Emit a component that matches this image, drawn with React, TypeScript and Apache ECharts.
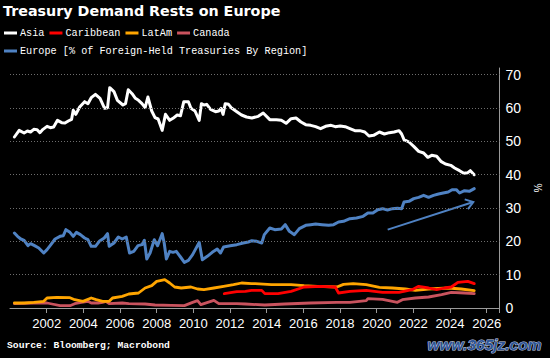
import React, { useEffect, useRef } from 'react';
import * as echarts from 'echarts';

const titleText = 'Treasury Demand Rests on Europe';
const sourceText = 'Source: Bloomberg; Macrobond';
const watermarkText = 'www.365jz.com';
const europeLegendText = 'Europe [% of Foreign-Held Treasuries By Region]';
const legendRow1 = ['Asia', 'Caribbean', 'LatAm', 'Canada'];
const gridTicks = [10, 20, 30, 40, 50, 60, 70];
const arrowTail = [2020.6, 23.5];
const arrowTip = [2025.27, 31.8];

const asia = [
  [2000.24, 51.3], [2000.5, 53.3], [2000.77, 52.5], [2000.95, 53.1], [2001.12, 52.8], [2001.3, 53.6],
  [2001.48, 53.5], [2001.63, 52.6], [2001.8, 53.6], [2002.02, 54.5], [2002.2, 54.1], [2002.38, 54.3],
  [2002.59, 56.3], [2002.82, 55.6], [2003.0, 55.5], [2003.18, 56.1], [2003.36, 56.6], [2003.45, 59.3],
  [2003.59, 58.1], [2003.8, 60.3], [2004.07, 61.9], [2004.25, 61.3], [2004.43, 63.1], [2004.66, 64.1],
  [2004.91, 62.9], [2005.16, 59.9], [2005.32, 60.1], [2005.44, 66.1], [2005.67, 64.9], [2005.86, 62.3],
  [2006.16, 60.9], [2006.3, 61.3], [2006.45, 65.5], [2006.66, 64.3], [2006.84, 62.9], [2007.01, 62.3],
  [2007.2, 61.3], [2007.37, 60.1], [2007.52, 63.3], [2007.73, 59.1], [2007.91, 57.1], [2008.08, 56.7],
  [2008.3, 53.3], [2008.48, 58.1], [2008.71, 56.3], [2008.89, 56.9], [2009.12, 57.9], [2009.3, 57.7],
  [2009.48, 61.9], [2009.73, 61.9], [2009.87, 59.9], [2010.09, 59.1], [2010.32, 56.3], [2010.44, 61.3],
  [2010.58, 60.9], [2010.73, 61.1], [2010.94, 59.6], [2011.21, 58.9], [2011.39, 59.1], [2011.51, 59.9],
  [2011.62, 58.1], [2011.74, 61.3], [2011.92, 61.1], [2012.1, 59.9], [2012.37, 58.9], [2012.63, 57.9],
  [2012.9, 57.3], [2013.19, 57.0], [2013.54, 57.5], [2013.81, 58.5], [2014.17, 56.5], [2014.53, 56.5],
  [2014.8, 56.3], [2015.06, 55.4], [2015.33, 56.8], [2015.6, 57.0], [2015.87, 55.8], [2016.13, 55.0],
  [2016.4, 54.8], [2016.67, 54.4], [2016.94, 53.8], [2017.21, 54.5], [2017.51, 54.8], [2017.74, 54.4],
  [2018.01, 54.6], [2018.28, 54.4], [2018.54, 53.8], [2018.81, 53.2], [2019.08, 53.2], [2019.35, 52.8],
  [2019.58, 51.6], [2019.83, 51.8], [2020.15, 52.8], [2020.42, 52.2], [2020.69, 52.6], [2020.95, 52.8],
  [2021.22, 53.2], [2021.36, 52.2], [2021.49, 50.5], [2021.76, 49.8], [2022.02, 48.5], [2022.29, 47.0],
  [2022.56, 46.5], [2022.79, 45.2], [2023.0, 45.8], [2023.27, 45.5], [2023.5, 44.0], [2023.75, 43.2],
  [2024.04, 42.8], [2024.25, 42.0], [2024.52, 41.2], [2024.75, 40.4], [2024.97, 40.6], [2025.11, 41.2],
  [2025.32, 40.0],
];

const europe = [
  [2000.24, 22.5], [2000.41, 21.5], [2000.59, 20.7], [2000.77, 20.3], [2000.98, 18.7], [2001.12, 19.3],
  [2001.34, 18.7], [2001.57, 18.0], [2001.84, 16.5], [2002.02, 17.5], [2002.19, 18.7], [2002.46, 20.7],
  [2002.73, 21.5], [2002.91, 21.7], [2003.05, 23.5], [2003.27, 22.7], [2003.45, 21.5], [2003.62, 22.7],
  [2003.84, 22.0], [2004.07, 21.0], [2004.25, 20.5], [2004.43, 18.5], [2004.66, 18.5], [2004.87, 20.0],
  [2005.14, 21.0], [2005.32, 22.3], [2005.41, 18.5], [2005.67, 19.5], [2005.91, 21.3], [2006.12, 20.7],
  [2006.34, 21.3], [2006.52, 16.5], [2006.75, 17.0], [2006.98, 18.7], [2007.2, 19.0], [2007.33, 20.3],
  [2007.46, 14.7], [2007.64, 16.5], [2007.87, 20.5], [2008.05, 18.7], [2008.3, 22.3], [2008.41, 19.5],
  [2008.53, 14.7], [2008.71, 17.0], [2008.89, 16.7], [2009.07, 17.0], [2009.3, 15.3], [2009.51, 13.7],
  [2009.73, 14.3], [2009.96, 16.0], [2010.32, 19.7], [2010.49, 14.5], [2010.76, 15.5], [2011.03, 16.7],
  [2011.3, 17.7], [2011.48, 16.5], [2011.65, 18.3], [2012.01, 18.7], [2012.37, 19.0], [2012.72, 19.5],
  [2013.0, 19.8], [2013.19, 20.2], [2013.46, 20.0], [2013.73, 19.5], [2013.87, 22.0], [2014.17, 24.0],
  [2014.44, 23.5], [2014.8, 23.7], [2015.01, 25.0], [2015.24, 23.0], [2015.51, 22.0], [2015.78, 23.8],
  [2016.13, 24.8], [2016.4, 25.0], [2016.67, 25.2], [2017.02, 25.0], [2017.38, 24.8], [2017.65, 25.0],
  [2017.92, 25.8], [2018.19, 26.0], [2018.54, 26.8], [2018.9, 27.0], [2019.26, 27.5], [2019.52, 28.5],
  [2019.79, 28.5], [2020.06, 29.5], [2020.32, 29.8], [2020.59, 29.4], [2020.86, 29.8], [2021.13, 29.9],
  [2021.36, 29.8], [2021.49, 31.8], [2021.76, 32.0], [2022.02, 32.8], [2022.29, 33.2], [2022.56, 33.8],
  [2022.83, 33.2], [2023.1, 33.8], [2023.37, 34.2], [2023.63, 34.5], [2023.9, 34.8], [2024.11, 35.5],
  [2024.34, 35.5], [2024.52, 34.5], [2024.79, 35.2], [2025.05, 35.0], [2025.32, 35.8],
];

const latam = [
  [2000.24, 1.5], [2000.77, 1.5], [2001.3, 1.7], [2001.84, 2.0], [2002.02, 3.0], [2002.55, 3.2],
  [2003.27, 3.1], [2003.53, 2.5], [2003.98, 2.0], [2004.43, 3.0], [2004.7, 2.5], [2005.05, 2.0],
  [2005.41, 2.0], [2005.59, 3.0], [2006.12, 3.5], [2006.48, 4.2], [2007.01, 4.5], [2007.37, 6.0],
  [2007.73, 6.7], [2008.0, 8.0], [2008.26, 8.3], [2008.44, 8.5], [2008.71, 7.5], [2008.98, 6.3],
  [2009.34, 6.0], [2009.87, 6.3], [2010.23, 5.7], [2010.58, 5.5], [2011.12, 6.0], [2011.65, 6.5],
  [2012.19, 7.0], [2012.63, 7.5], [2013.17, 7.3], [2013.37, 7.3], [2014.26, 7.0], [2015.33, 7.0],
  [2016.04, 6.7], [2016.76, 6.5], [2017.83, 6.3], [2018.19, 7.1], [2018.72, 7.3], [2019.43, 7.0],
  [2020.15, 6.2], [2020.86, 6.0], [2021.57, 5.7], [2022.11, 5.3], [2022.83, 5.7], [2023.9, 6.0],
  [2024.61, 5.7], [2025.32, 5.2],
];

const caribbean = [
  [2011.69, 4.3], [2012.37, 4.9], [2012.84, 5.0], [2013.17, 5.3], [2013.73, 5.3], [2013.9, 4.3],
  [2014.62, 4.3], [2015.33, 5.0], [2016.04, 6.3], [2016.94, 6.5], [2017.74, 6.3], [2017.92, 4.5],
  [2018.54, 5.0], [2019.43, 5.3], [2020.32, 4.7], [2021.22, 4.7], [2021.93, 5.5], [2022.29, 6.5],
  [2022.83, 6.0], [2023.27, 5.5], [2023.71, 6.0], [2024.07, 6.3], [2024.43, 7.7], [2024.97, 8.0],
  [2025.32, 7.3],
];

const canada = [
  [2000.24, 1.3], [2001.3, 1.5], [2002.02, 1.5], [2002.29, 1.2], [2002.73, 0.7], [2003.27, 0.7],
  [2003.53, 1.3], [2003.89, 1.7], [2004.25, 2.0], [2004.43, 1.5], [2004.8, 1.5], [2005.05, 1.7],
  [2005.23, 2.0], [2005.41, 1.3], [2006.12, 1.5], [2006.48, 1.3], [2007.37, 1.2], [2007.91, 0.9],
  [2008.8, 0.8], [2009.51, 0.7], [2009.96, 1.7], [2010.23, 2.2], [2010.41, 1.0], [2011.12, 2.3],
  [2011.39, 1.3], [2012.37, 1.3], [2012.84, 1.2], [2013.9, 0.9], [2014.98, 1.2], [2016.4, 1.5],
  [2017.83, 1.7], [2018.54, 1.7], [2019.43, 2.2], [2019.52, 2.8], [2020.32, 2.6], [2021.13, 1.7],
  [2021.4, 2.5], [2022.11, 3.0], [2022.83, 3.3], [2023.54, 4.0], [2024.07, 4.7], [2024.79, 4.5],
  [2025.32, 4.3],
];

const COLORS = {
  Asia: '#ffffff',
  Europe: '#4f82c3',
  Caribbean: '#ff0000',
  LatAm: '#ffa500',
  Canada: '#c9535e',
};

export default function App() {
  const ref = useRef<HTMLDivElement>(null);

  useEffect(() => {
    if (!ref.current) return;
    const chart = echarts.init(ref.current, null, { renderer: 'svg' });
    const mono = '"Liberation Mono", "DejaVu Sans Mono", monospace';
    const sans = '"Liberation Sans", Arial, sans-serif';
    const lineSeries = (name: string, data: number[][], width = 2.8, extra: any = {}) => ({
      type: 'line',
      name,
      data,
      showSymbol: false,
      symbol: 'none',
      color: (COLORS as any)[name],
      lineStyle: { color: (COLORS as any)[name], width, join: 'round', cap: 'round' },
      ...extra,
    });

    chart.setOption({
      animation: false,
      backgroundColor: '#000000',
      title: {
        text: titleText,
        left: 3,
        top: 4,
        padding: 0,
        textStyle: { color: '#ffffff', fontFamily: '"DejaVu Sans", Verdana, sans-serif', fontWeight: 'bold', fontSize: 14.3 },
      },
      legend: [
        {
          data: legendRow1,
          left: 4,
          top: 27,
          padding: 0,
          itemGap: 5,
          itemWidth: 13,
          itemHeight: 3,
          icon: 'rect',
          selectedMode: false,
          textStyle: { color: '#ffffff', fontFamily: mono, fontSize: 10.2, lineHeight: 12, padding: [0, 0, 0, -2] },
        },
        {
          data: ['Europe'],
          left: 4,
          top: 45,
          padding: 0,
          itemWidth: 13,
          itemHeight: 3,
          icon: 'rect',
          selectedMode: false,
          formatter: () => europeLegendText,
          textStyle: { color: '#ffffff', fontFamily: mono, fontSize: 10.2, lineHeight: 12, padding: [0, 0, 0, -2] },
        },
      ],
      grid: { left: 10, right: 41, top: 68, bottom: 50, containLabel: false },
      xAxis: {
        type: 'value',
        min: 2000,
        max: 2026.7,
        interval: 2,
        axisLine: { show: true, lineStyle: { color: '#9a9a9a', width: 1 } },
        axisTick: { show: true, length: 5, lineStyle: { color: '#9a9a9a' } },
        splitLine: { show: false },
        axisLabel: {
          color: '#ffffff',
          fontFamily: sans,
          fontSize: 13,
          margin: 9,
          showMinLabel: false,
          formatter: (v: number) => (Math.abs(v - Math.round(v)) < 1e-6 && Math.round(v) % 2 === 0 && v > 2000 ? String(Math.round(v)) : ''),
        },
      },
      yAxis: {
        type: 'value',
        position: 'right',
        min: 0,
        max: 72,
        interval: 10,
        name: '%',
        nameLocation: 'middle',
        nameGap: 29,
        nameRotate: -90,
        nameTextStyle: { color: '#ffffff', fontSize: 10, fontFamily: sans },
        axisLine: { show: true, lineStyle: { color: '#9a9a9a', width: 1 } },
        axisTick: { show: false },
        splitLine: { show: false },
        axisLabel: {
          color: '#ffffff',
          fontFamily: sans,
          fontSize: 14,
          margin: 6,
          formatter: (v: number) => (v % 10 === 0 ? String(v) : ''),
        },
      },
      series: [
        lineSeries('Canada', canada, 2.8, {
          markLine: {
            silent: true,
            symbol: 'none',
            label: { show: false },
            lineStyle: { color: '#6e6e6e', type: [1, 2], width: 1 },
            emphasis: { disabled: true },
            data: gridTicks.map((v) => ({ yAxis: v })),
          },
        }),
        lineSeries('LatAm', latam),
        lineSeries('Caribbean', caribbean),
        lineSeries('Europe', europe, 3),
        lineSeries('Asia', asia, 3),
      ],
    });

    const p1 = chart.convertToPixel({ gridIndex: 0 }, arrowTail) as number[];
    const p2 = chart.convertToPixel({ gridIndex: 0 }, arrowTip) as number[];
    const dx = p1[0] - p2[0];
    const dy = p1[1] - p2[1];
    const len = Math.hypot(dx, dy);
    const ux = dx / len;
    const uy = dy / len;
    const a = (35 * Math.PI) / 180;
    const headLen = 9;
    const armA = [p2[0] + headLen * (ux * Math.cos(a) - uy * Math.sin(a)), p2[1] + headLen * (ux * Math.sin(a) + uy * Math.cos(a))];
    const armB = [p2[0] + headLen * (ux * Math.cos(a) + uy * Math.sin(a)), p2[1] + headLen * (-ux * Math.sin(a) + uy * Math.cos(a))];

    chart.setOption({
      graphic: [
        {
          type: 'text',
          id: 'source',
          left: 7,
          top: 340,
          silent: true,
          style: { text: sourceText, fill: '#ffffff', font: `bold 9.7px ${mono}` },
        },
        {
          type: 'text',
          id: 'watermark',
          left: 427,
          top: 336,
          silent: true,
          style: {
            text: watermarkText,
            fill: '#2f5596',
            stroke: '#c9d6ee',
            lineWidth: 1,
            font: `italic bold 15.5px ${sans}`,
          },
        },
        {
          type: 'line',
          id: 'arrowLine',
          silent: true,
          shape: { x1: p1[0], y1: p1[1], x2: p2[0], y2: p2[1] },
          style: { stroke: COLORS.Europe, lineWidth: 2 },
        },
        {
          type: 'polyline',
          id: 'arrowHead',
          silent: true,
          shape: { points: [armA, p2, armB] },
          style: { stroke: COLORS.Europe, lineWidth: 2, fill: 'none' },
        },
      ],
    });

    return () => chart.dispose();
  }, []);

  return (
    <div
      ref={ref}
      style={{ position: 'fixed', left: 0, top: 0, width: 550, height: 358, background: '#000' }}
    />
  );
}
